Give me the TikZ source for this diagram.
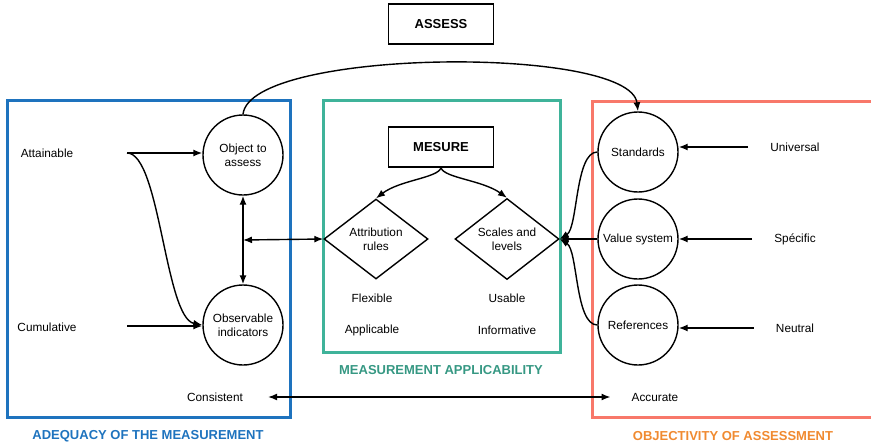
\documentclass[tikz,border=0pt]{standalone}
\usepackage{fontspec}
\setmainfont{Liberation Sans}
\usetikzlibrary{calc}
\usetikzlibrary{arrows.meta}
\usetikzlibrary{shapes.geometric}

\definecolor{adqblue}{HTML}{1E73BE}
\definecolor{appgreen}{HTML}{3FB39A}
\definecolor{objred}{HTML}{F8786A}
\definecolor{objorange}{HTML}{F08A30}

\tikzset{
  circ/.style={draw,circle,line width=1.4pt,minimum size=80pt,inner sep=0pt,align=center},
  rule/.style={draw,diamond,line width=1.4pt,minimum width=104pt,minimum height=80pt,inner sep=0pt,align=center},
  rectbox/.style={draw,line width=1.4pt,minimum width=105pt,minimum height=40pt,font=\fontsize{13}{15}\selectfont\bfseries},
  word/.style={inner sep=0pt},
  frame/.style={line width=3pt},
  title/.style={font=\fontsize{13}{15}\selectfont\bfseries},
  conn/.style={line width=1.4pt,-{Latex[length=9pt,width=7pt]}},
  conn2/.style={line width=1.4pt,{Latex[length=9pt,width=7pt]}-{Latex[length=9pt,width=7pt]}}
}

\begin{document}
\begin{tikzpicture}[x=1pt,y=-1pt,font=\fontsize{11.8}{14}\selectfont]

\useasboundingbox (0,0) rectangle (871,447);

% the three frames
\draw[adqblue,frame] (7,100) rectangle (290,417);
\draw[appgreen,frame] (323,100) rectangle (560,352);
\begin{scope}
\clip (0,0) rectangle (871,447);
\draw[objred,frame] (592,101) rectangle (890,417);
\end{scope}

\node[title,adqblue] (adqt) at (148,436) {ADEQUACY OF THE MEASUREMENT};
\node[title,appgreen!85!black] (appt) at (441,370) {MEASUREMENT APPLICABILITY};
\node[title,objorange] (objt) at (733,436) {OBJECTIVITY OF ASSESSMENT};

% boxes
\node[rectbox] (assess) at (441,24) {ASSESS};
\node[rectbox] (mesure) at (441,147) {MESURE};

% circles
\node[circ] (obj) at (243,155) {Object to\\assess};
\node[circ] (obs) at (243,325) {Observable\\indicators};
\node[circ] (std) at (638,152) {Standards};
\node[circ] (val) at (638,239) {Value system};
\node[circ] (ref) at (638,325) {References};

% diamonds
\node[rule] (attr) at (376,239) {Attribution\\rules};
\node[rule] (scl) at (507,239) {Scales and\\levels};

% words
\node[word] (att) at (47,153) {Attainable};
\node[word] (cum) at (47,327) {Cumulative};
\node[word] (flex) at (372,298) {Flexible};
\node[word] (appl) at (372,330) {Applicable};
\node[word] (usab) at (507,298) {Usable};
\node[word] (info) at (507,330) {Informative};
\node[word] (cons) at (215,397) {Consistent};
\node[word] (acc) at (655,397) {Accurate};
\node[word] (uni) at (795,147) {Universal};
\node[word] (spe) at (795,239) {Sp\'ecific};
\node[word] (neu) at (795,328) {Neutral};

\coordinate (att-e) at (127,153);
\coordinate (cum-e) at (127,326);
\coordinate (link) at ($(obj.south)!0.5!(obs.north)$);

% left side
\draw[conn] (att-e) -- (att-e -| obj.west);
\draw[conn] (att-e) .. controls (160,153) and (165,318) .. (obs.west);
\draw[conn] (cum-e) -- (cum-e -| obs.west);
\draw[conn2] (obj.south) -- (obs.north);
\draw[conn2] (link) -- (attr.west);

% measure splits in two
\draw[conn] (mesure.south) .. controls (438,178) and (400,180) .. (attr.north);
\draw[conn] (mesure.south) .. controls (444,178) and (482,180) .. (scl.north);

% right side
\draw[conn] (std.west) .. controls (575,152) and (578,228) .. (scl.east);
\draw[conn] (val.west) -- (scl.east);
\draw[conn] (ref.west) .. controls (575,325) and (578,250) .. (scl.east);
\draw[conn,shorten <=22pt] (uni.west) -- (uni.west -| std.east);
\draw[conn,shorten <=22pt] (spe.west) -- (spe.west -| val.east);
\draw[conn,shorten <=22pt] (neu.west) -- (neu.west -| ref.east);

% long links
\draw[conn] (obj.north) .. controls (250,48) and (630,45) .. (std.north);
\draw[conn2,shorten <=25pt,shorten >=21pt] (cons.east) -- (acc.west);

\end{tikzpicture}
\end{document}
